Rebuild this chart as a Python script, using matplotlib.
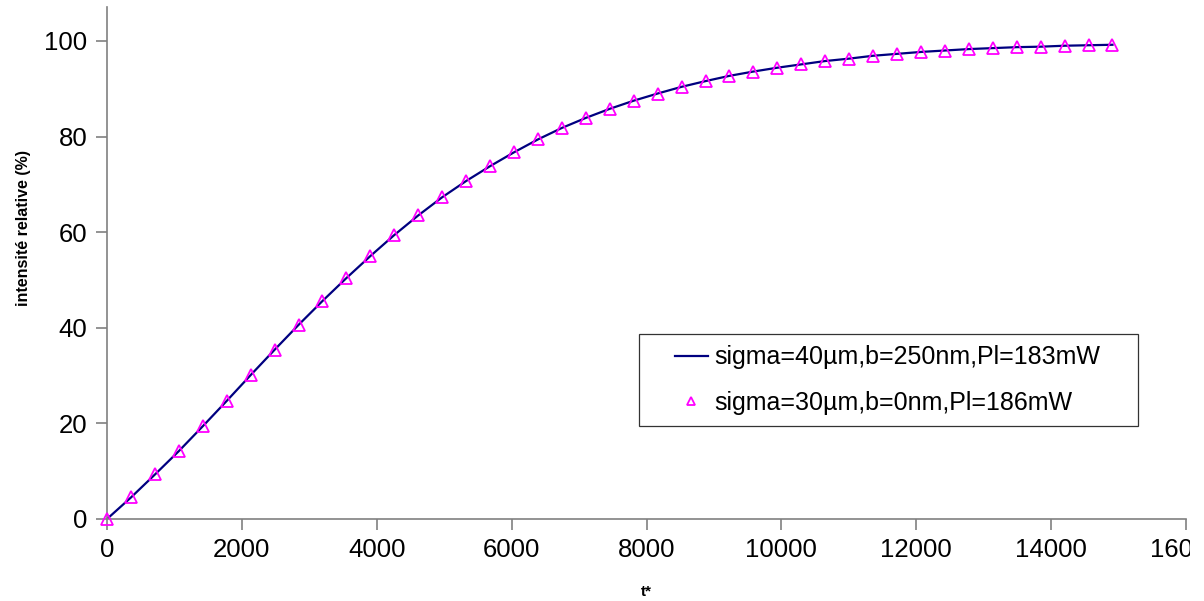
import matplotlib.pyplot as plt
from matplotlib.legend_handler import HandlerLine2D
from matplotlib.lines import Line2D
from matplotlib.transforms import Bbox

plt.rcParams['font.family'] = ['Liberation Sans', 'DejaVu Sans']

# t* values (shared by both series)
t = [0, 355, 710, 1065, 1420, 1775, 2130, 2485, 2840, 3195, 3550, 3905, 4260,
     4615, 4970, 5325, 5680, 6035, 6390, 6745, 7100, 7455, 7810, 8165, 8520,
     8875, 9230, 9585, 9940, 10295, 10650, 11005, 11360, 11715, 12070, 12425,
     12780, 13135, 13490, 13845, 14200, 14555, 14910]

# sigma=40um, b=250nm, Pl=183mW (line)
line_vals = [0, 4.5, 9.3, 14.2, 19.4, 24.7, 30.1, 35.4, 40.6, 45.6, 50.4, 55.0,
             59.4, 63.5, 67.3, 70.7, 73.8, 76.7, 79.4, 81.8, 83.9, 85.8, 87.5,
             89.0, 90.4, 91.6, 92.7, 93.6, 94.4, 95.1, 95.8, 96.3, 96.9, 97.3,
             97.7, 98.0, 98.3, 98.5, 98.7, 98.8, 99.0, 99.1, 99.2]

# sigma=30um, b=0nm, Pl=186mW (triangles)
tri_vals = [0, 4.6, 9.4, 14.2, 19.5, 24.7, 30.1, 35.4, 40.6, 45.6, 50.4, 55.0,
            59.4, 63.6, 67.4, 70.7, 73.8, 76.8, 79.5, 81.8, 83.9, 85.8, 87.4,
            89.0, 90.4, 91.6, 92.7, 93.5, 94.4, 95.1, 95.8, 96.3, 96.9, 97.3,
            97.7, 98.0, 98.3, 98.5, 98.7, 98.8, 99.0, 99.1, 99.2]


class ShiftedHandler(HandlerLine2D):
    # draw the legend key only in the right part of the handle box
    def __init__(self, off, **kw):
        super().__init__(**kw)
        self.off = off

    def create_artists(self, legend, orig_handle, xdescent, ydescent, width,
                       height, fontsize, trans):
        return super().create_artists(legend, orig_handle, xdescent - self.off,
                                      ydescent, width - self.off, height,
                                      fontsize, trans)


fig = plt.figure(figsize=(12.04, 6.01), dpi=100)
ax = fig.add_axes([107 / 1204, 1 - 519 / 601, (1186 - 107) / 1204, (519 - 7) / 601])

ax.plot(t, line_vals, color='#000080', lw=1.6, label='sigma=40µm,b=250nm,Pl=183mW')
ax.plot(t, tri_vals, ls='none', marker='^', ms=8, mfc='none', mec='#ff00ff',
        mew=1.3, clip_on=False, zorder=3, label='sigma=30µm,b=0nm,Pl=186mW')

ax.set_xlim(0, 16000)
ax.set_ylim(0, 107.1)
ax.set_xticks(range(0, 16001, 2000))
ax.set_yticks(range(0, 101, 20))

for s in ['top', 'right']:
    ax.spines[s].set_visible(False)
for s in ['left', 'bottom']:
    ax.spines[s].set_color('#808080')
    ax.spines[s].set_linewidth(1.2)
ax.tick_params(direction='out', length=8, width=1.2, color='#808080',
               labelsize=18.5, pad=6)

ax.set_ylabel('intensité relative (%)', fontsize=11.5, fontweight='bold')
ax.yaxis.label.set_va('center')
ax.yaxis.set_label_coords((24 - 107) / 1079, (519 - 228) / 512)
ax.set_xlabel('t*', fontsize=11, fontweight='bold')
ax.xaxis.label.set_va('center')
ax.xaxis.set_label_coords(0.5, (519 - 592) / 512)

x0, x1 = (639 - 107) / 1079, (1138 - 107) / 1079
leg = ax.legend(loc='upper left', bbox_to_anchor=(x0, (519 - 334) / 512 - 0.01, x1 - x0, 0.01),
                mode='expand', fontsize=18, frameon=True, fancybox=False,
                edgecolor='black', handlelength=2.31, handletextpad=0.25,
                borderpad=0.45, labelspacing=0.87, borderaxespad=0,
                markerscale=0.65,
                handler_map={Line2D: ShiftedHandler(17.6)})
leg.get_frame().set_linewidth(0.9)

# the last x tick label is cut off in the original
fig.canvas.draw()
clip = Bbox.from_extents(0, 0, 1190, 601)
for lab in ax.get_xticklabels():
    lab.set_clip_on(True)
    lab.set_clip_box(clip)

fig.savefig('out.png', dpi=100)
